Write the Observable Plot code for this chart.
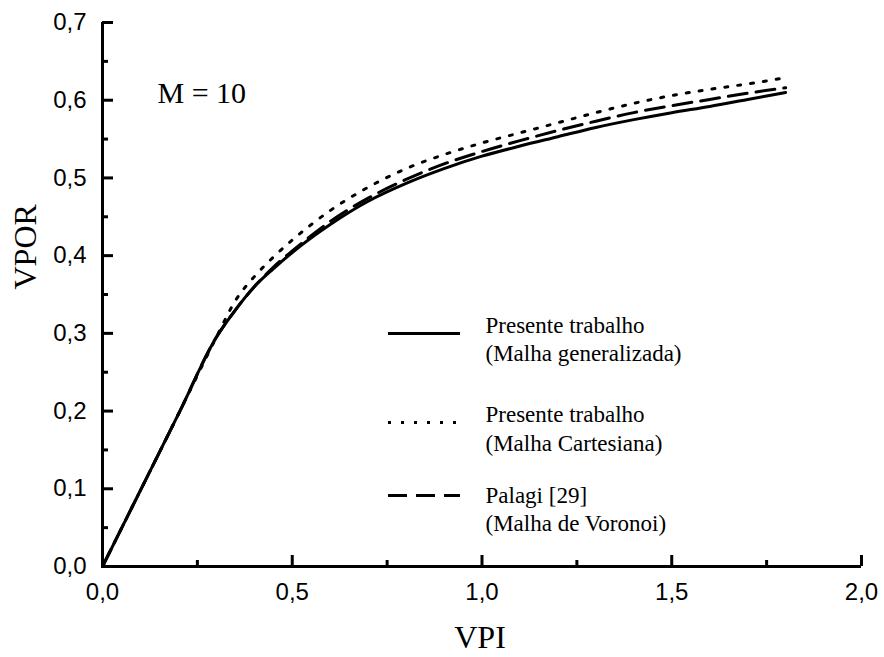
<!DOCTYPE html>
<html>
<head>
<meta charset="utf-8">
<script src="https://cdn.jsdelivr.net/npm/d3@7"></script>
<script src="https://cdn.jsdelivr.net/npm/@observablehq/plot@0.6"></script>
<style>
  html, body { margin: 0; padding: 0; background: #fff; }
  #chart svg { display: block; }
</style>
</head>
<body>
<div id="chart"></div>
<script>
// ---- data ----
const vpi =          [0, 0.1, 0.2, 0.3, 0.35, 0.4, 0.45, 0.5, 0.6, 0.7, 0.8, 0.9, 1.0, 1.1, 1.2, 1.3, 1.4, 1.5, 1.6, 1.7, 1.8];
const generalizada = [0, 0.098, 0.196, 0.295, 0.33, 0.36, 0.383, 0.404, 0.44, 0.47, 0.493, 0.512, 0.528, 0.541, 0.553, 0.565, 0.575, 0.584, 0.592, 0.601, 0.61];
const cartesiana =   [0, 0.098, 0.196, 0.295, 0.342, 0.373, 0.398, 0.42, 0.458, 0.488, 0.512, 0.53, 0.545, 0.558, 0.571, 0.584, 0.596, 0.606, 0.614, 0.621, 0.629];
const voronoi =      [0, 0.098, 0.196, 0.295, 0.33, 0.36, 0.385, 0.406, 0.444, 0.474, 0.498, 0.518, 0.534, 0.548, 0.561, 0.573, 0.584, 0.593, 0.601, 0.609, 0.616];

const xMajorTicks = [0, 0.5, 1.0, 1.5, 2.0];
const xMinorTicks = [0.25, 0.75, 1.25, 1.75];
const yMajorTicks = [0, 0.1, 0.2, 0.3, 0.4, 0.5, 0.6, 0.7];
const yMinorTicks = [0.05, 0.15, 0.25, 0.35, 0.45, 0.55, 0.65];

const xTitle = "VPI";
const yTitle = "VPOR";
const annotation = "M = 10";
const legendTitles = ["Presente trabalho", "Presente trabalho", "Palagi [29]"];
const legendSubtitles = ["(Malha generalizada)", "(Malha Cartesiana)", "(Malha de Voronoi)"];

// ---- layout ----
const W = 884, H = 657;
const mL = 102, mR = 23, mT = 22, mB = 91;
const xDom = [0, 2], yDom = [0, 0.7];
const pxX = (xDom[1] - xDom[0]) / (W - mL - mR);   // data units per pixel, x
const pxY = (yDom[1] - yDom[0]) / (H - mB - mT);   // data units per pixel, y
const px2x = px => xDom[0] + (px - mL) * pxX;
const px2y = py => yDom[0] + (H - mB - py) * pxY;

const fmt = d => d.toFixed(1).replace(".", ",");
const sans = "'Liberation Sans', Arial, sans-serif";
const serif = "'Liberation Serif', 'Times New Roman', serif";

const rows = (ys) => vpi.map((x, i) => ({x, y: ys[i]}));

const SOLID = null, DOTTED = "3,10", DASHED = "19,9";
const styles = [SOLID, DOTTED, DASHED];

// legend layout (pixels)
const legLineX1 = 388, legLineX2 = 460, legTextX = 485;
const legLineY = [333, 422, 495];
const legBase1 = [332, 421, 502];
const legBase2 = [360, 450, 530];

const legendMarks = [];
legendTitles.forEach((t, i) => {
  legendMarks.push(Plot.ruleY([px2y(legLineY[i])], {
    x1: px2x(legLineX1), x2: px2x(legLineX2),
    stroke: "black", strokeWidth: 3, strokeDasharray: styles[i]
  }));
  legendMarks.push(Plot.text([t], {
    x: px2x(legTextX), y: px2y(legBase1[i]), text: d => d,
    textAnchor: "start", lineAnchor: "bottom",
    fontFamily: serif, fontSize: 23, fill: "black"
  }));
  legendMarks.push(Plot.text([legendSubtitles[i]], {
    x: px2x(legTextX), y: px2y(legBase2[i]), text: d => d,
    textAnchor: "start", lineAnchor: "bottom",
    fontFamily: serif, fontSize: 23, fill: "black"
  }));
});

const MAJ = 11, MIN = 6;  // tick lengths in pixels, drawn inward

const chart = Plot.plot({
  width: W, height: H,
  marginLeft: mL, marginRight: mR, marginTop: mT, marginBottom: mB,
  style: {background: "#fff", color: "black", fontFamily: sans, fontSize: "24px"},
  x: {domain: xDom},
  y: {domain: yDom},
  marks: [
    // axis lines
    Plot.ruleX([0], {strokeWidth: 3, stroke: "black"}),
    Plot.ruleY([0], {strokeWidth: 3, stroke: "black"}),
    // inward ticks
    Plot.ruleX(xMajorTicks, {x: d => d, y1: yDom[0], y2: yDom[0] + MAJ * pxY, strokeWidth: 3, stroke: "black"}),
    Plot.ruleX(xMinorTicks, {x: d => d, y1: yDom[0], y2: yDom[0] + MIN * pxY, strokeWidth: 3, stroke: "black"}),
    Plot.ruleY(yMajorTicks, {y: d => d, x1: xDom[0], x2: xDom[0] + MAJ * pxX, strokeWidth: 3, stroke: "black"}),
    Plot.ruleY(yMinorTicks, {y: d => d, x1: xDom[0], x2: xDom[0] + MIN * pxX, strokeWidth: 3, stroke: "black"}),
    // tick labels
    Plot.axisX(xMajorTicks, {tickSize: 0, tickPadding: 16, tickFormat: fmt, label: null, fontSize: 24}),
    Plot.axisY(yMajorTicks, {tickSize: 0, tickPadding: 16, tickFormat: fmt, label: null, fontSize: 24}),
    // curves
    Plot.line(rows(voronoi), {x: "x", y: "y", stroke: "black", strokeWidth: 3, strokeDasharray: DASHED, curve: "monotone-x"}),
    Plot.line(rows(cartesiana), {x: "x", y: "y", stroke: "black", strokeWidth: 3, strokeDasharray: DOTTED, curve: "monotone-x"}),
    Plot.line(rows(generalizada), {x: "x", y: "y", stroke: "black", strokeWidth: 3, curve: "monotone-x"}),
    // titles
    Plot.text([xTitle], {frameAnchor: "bottom", dx: -2, dy: 81, lineAnchor: "bottom", fontFamily: serif, fontSize: 32, fill: "black"}),
    Plot.text([yTitle], {frameAnchor: "left", dx: -77, dy: -5, rotate: -90, lineAnchor: "middle", fontFamily: serif, fontSize: 32, fill: "black"}),
    Plot.text([annotation], {frameAnchor: "top-left", dx: 55, dy: 80, textAnchor: "start", lineAnchor: "bottom", fontFamily: serif, fontSize: 30, fill: "black"}),
    ...legendMarks
  ]
});
document.getElementById("chart").append(chart);
</script>
</body>
</html>
